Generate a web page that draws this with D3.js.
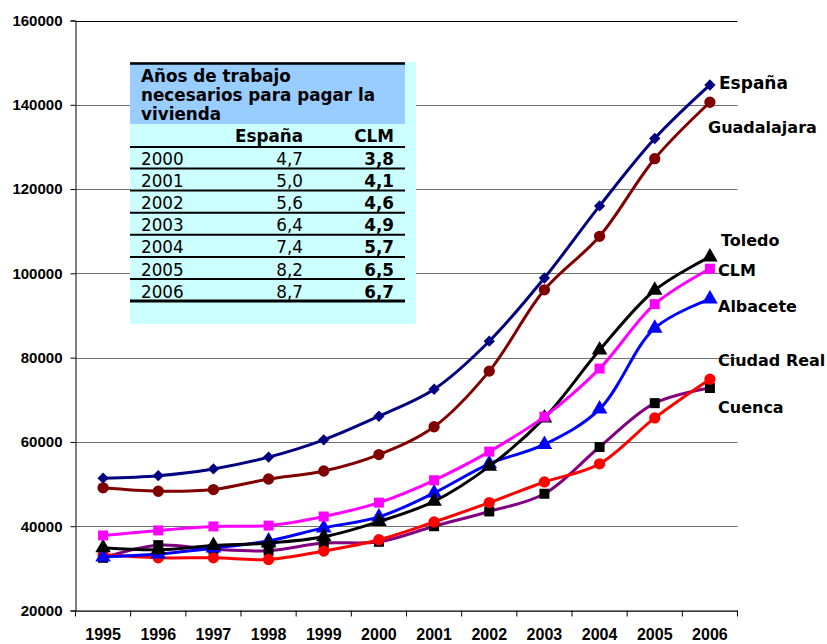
<!DOCTYPE html>
<html lang="es">
<head>
<meta charset="UTF-8"/>
<title>Precio de la vivienda</title>
<script src="https://d3js.org/d3.v7.min.js"></script>
<style>
  body { margin: 0; background: #fff; }
  svg { display: block; }
</style>
</head>
<body>
<script>
var w = 827;
var h = 644;

// data
var years = ["1995", "1996", "1997", "1998", "1999", "2000", "2001", "2002", "2003", "2004", "2005", "2006"];
var espana      = [51400, 52000, 53600, 56400, 60500, 66100, 72500, 83900, 98900, 116000, 132000, 144700];
var guadalajara = [49100, 48300, 48700, 51200, 53100, 57000, 63600, 76800, 96100, 108800, 127200, 140600];
var toledo      = [34900, 34400, 35400, 36000, 37500, 41100, 45900, 54200, 65700, 81800, 96000, 103900];
var clm         = [37800, 39000, 39950, 40150, 42300, 45600, 50900, 57700, 66000, 77400, 92700, 101100];
var albacete    = [32700, 33400, 34800, 36500, 39600, 42200, 47900, 54800, 59400, 67800, 87000, 93900];
var ciudadReal  = [33200, 32500, 32500, 32100, 34100, 36800, 41000, 45600, 50500, 54800, 65700, 74900];
var cuenca      = [32500, 35500, 34500, 34200, 36000, 36300, 40000, 43500, 47700, 58800, 69200, 72800];
var yTicks = [20000, 40000, 60000, 80000, 100000, 120000, 140000, 160000];

// table values
var tableTitle = ["Años de trabajo", "necesarios para pagar la", "vivienda"];
var tableHead = ["España", "CLM"];
var tableYears = ["2000", "2001", "2002", "2003", "2004", "2005", "2006"];
var tableEspana = ["4,7", "5,0", "5,6", "6,4", "7,4", "8,2", "8,7"];
var tableClm = ["3,8", "4,1", "4,6", "4,9", "5,7", "6,5", "6,7"];

var series = [
    { name: "Guadalajara", values: guadalajara, color: "#800000", marker: "circle", markColor: "#800000", lx: 708, ly: 127, fs: 16 },
    { name: "España", values: espana, color: "#000080", marker: "diamond", markColor: "#000080", lx: 719, ly: 83, fs: 17 },
    { name: "Cuenca", values: cuenca, color: "#800080", marker: "square", markColor: "#000000", lx: 718, ly: 407, fs: 16 },
    { name: "Ciudad Real", values: ciudadReal, color: "#FF0000", marker: "circle", markColor: "#FF0000", lx: 718, ly: 360, fs: 16 },
    { name: "Albacete", values: albacete, color: "#0000FF", marker: "triangle", markColor: "#0000FF", lx: 718, ly: 306, fs: 16 },
    { name: "Toledo", values: toledo, color: "#000000", marker: "triangle", markColor: "#000000", lx: 721, ly: 240, fs: 16 },
    { name: "CLM", values: clm, color: "#FF00FF", marker: "square", markColor: "#FF00FF", lx: 718, ly: 270, fs: 16 }
];

// plot area edges (note: "top" is reserved on window)
var plotLeft = 75.5, plotRight = 737.5, plotTop = 20.5, plotBottom = 610.5;

var x = d3.scaleBand().domain(years).range([plotLeft, plotRight]).padding(0);
var y = d3.scaleLinear().domain([20000, 160000]).range([plotBottom, plotTop]);
function cx(i) { return x(years[i]) + x.bandwidth() / 2; }

var svg = d3.select("body").append("svg")
    .attr("width", w)
    .attr("height", h);

// gridlines
svg.append("g").selectAll("line")
    .data(yTicks)
    .enter().append("line")
    .attr("x1", plotLeft).attr("x2", plotRight)
    .attr("y1", function (d) { return Math.round(y(d)) + 0.5; })
    .attr("y2", function (d) { return Math.round(y(d)) + 0.5; })
    .attr("stroke", function (d) { return d == 160000 ? "#000" : "#707070"; })
    .attr("stroke-width", 1);

// y axis
var yAxis = svg.append("g")
    .attr("transform", "translate(" + plotLeft + ",0)")
    .call(d3.axisLeft(y).tickValues(yTicks).tickSize(5).tickPadding(8).tickFormat(d3.format("d")));
yAxis.select(".domain").attr("stroke", "#000");
yAxis.selectAll("text")
    .attr("font-family", "'Liberation Sans', Arial, sans-serif")
    .attr("font-weight", "bold")
    .attr("font-size", "15px")
    .attr("fill", "#000");

// x axis (ticks between categories)
var xAxis = svg.append("g")
    .attr("transform", "translate(0," + plotBottom + ")")
    .call(d3.axisBottom(x).tickSize(0).tickPadding(18));
xAxis.select(".domain").attr("stroke", "#000");
xAxis.selectAll("text")
    .attr("font-family", "'Liberation Sans', Arial, sans-serif")
    .attr("font-weight", "bold")
    .attr("font-size", "16px")
    .attr("fill", "#000");
svg.append("g").selectAll("line")
    .data(years.concat(["end"]))
    .enter().append("line")
    .attr("x1", function (d, i) { return plotLeft + i * x.bandwidth(); })
    .attr("x2", function (d, i) { return plotLeft + i * x.bandwidth(); })
    .attr("y1", plotBottom).attr("y2", plotBottom + 6)
    .attr("stroke", "#000");

// table
var tg = svg.append("g").attr("font-family", "'DejaVu Sans', Verdana, sans-serif").attr("font-size", "16.8px");
tg.append("rect").attr("x", 130).attr("y", 62).attr("width", 286).attr("height", 262).attr("fill", "#CCFFFF");
tg.append("rect").attr("x", 130).attr("y", 62).attr("width", 275).attr("height", 62).attr("fill", "#99CCFF");
tg.append("line").attr("x1", 130).attr("x2", 405).attr("y1", 63.5).attr("y2", 63.5).attr("stroke", "#000").attr("stroke-width", 2.5);
tg.selectAll("text.title")
    .data(tableTitle)
    .enter().append("text")
    .attr("class", "title")
    .attr("x", 141)
    .attr("y", function (d, i) { return 82 + i * 19; })
    .attr("font-weight", "bold")
    .text(function (d) { return d; });
tg.append("text").attr("x", 303).attr("y", 142).attr("text-anchor", "end").attr("font-weight", "bold").text(tableHead[0]);
tg.append("text").attr("x", 394).attr("y", 142).attr("text-anchor", "end").attr("font-weight", "bold").text(tableHead[1]);
tg.append("line").attr("x1", 130).attr("x2", 405).attr("y1", 147).attr("y2", 147).attr("stroke", "#000").attr("stroke-width", 2);

var rowH = 22.1;
var rows = tg.selectAll("g.row")
    .data(tableYears)
    .enter().append("g")
    .attr("class", "row")
    .attr("transform", function (d, i) { return "translate(0," + (i * rowH) + ")"; });
rows.append("text").attr("x", 141).attr("y", 165).text(function (d) { return d; });
rows.append("text").attr("x", 303).attr("y", 165).attr("text-anchor", "end").text(function (d, i) { return tableEspana[i]; });
rows.append("text").attr("x", 394).attr("y", 165).attr("text-anchor", "end").attr("font-weight", "bold").text(function (d, i) { return tableClm[i]; });
rows.append("line")
    .attr("x1", 130).attr("x2", 405)
    .attr("y1", 168.5).attr("y2", 168.5)
    .attr("stroke", "#000")
    .attr("stroke-width", function (d, i) { return i == tableYears.length - 1 ? 3 : 2; });

// lines
var line = d3.line()
    .x(function (d, i) { return cx(i); })
    .y(function (d) { return y(d); })
    .curve(d3.curveCatmullRom.alpha(0.5));

var sg = svg.selectAll("g.series")
    .data(series)
    .enter().append("g")
    .attr("class", "series");

sg.append("path")
    .attr("d", function (s) { return line(s.values); })
    .attr("fill", "none")
    .attr("stroke", function (s) { return s.color; })
    .attr("stroke-width", 3);

// excel-like markers: diamond is a square turned 45 degrees
var symbols = { circle: d3.symbolCircle, square: d3.symbolSquare, diamond: d3.symbolSquare, triangle: d3.symbolTriangle };
var sizes = { circle: 100, square: 100, diamond: 64, triangle: 105 };

sg.each(function (s) {
    d3.select(this).selectAll("path.mark")
        .data(s.values)
        .enter().append("path")
        .attr("class", "mark")
        .attr("transform", function (d, i) {
            return "translate(" + cx(i) + "," + y(d) + ")" + (s.marker == "diamond" ? " rotate(45)" : "");
        })
        .attr("d", d3.symbol().type(symbols[s.marker]).size(sizes[s.marker]))
        .attr("fill", s.markColor);
});

// series labels
svg.append("g").selectAll("text")
    .data(series)
    .enter().append("text")
    .attr("x", function (s) { return s.lx; })
    .attr("y", function (s) { return s.ly + s.fs * 0.36; })
    .attr("font-family", "'DejaVu Sans', Verdana, sans-serif")
    .attr("font-weight", "bold")
    .attr("font-size", function (s) { return s.fs + "px"; })
    .attr("fill", "#000")
    .text(function (s) { return s.name; });
</script>
</body>
</html>
